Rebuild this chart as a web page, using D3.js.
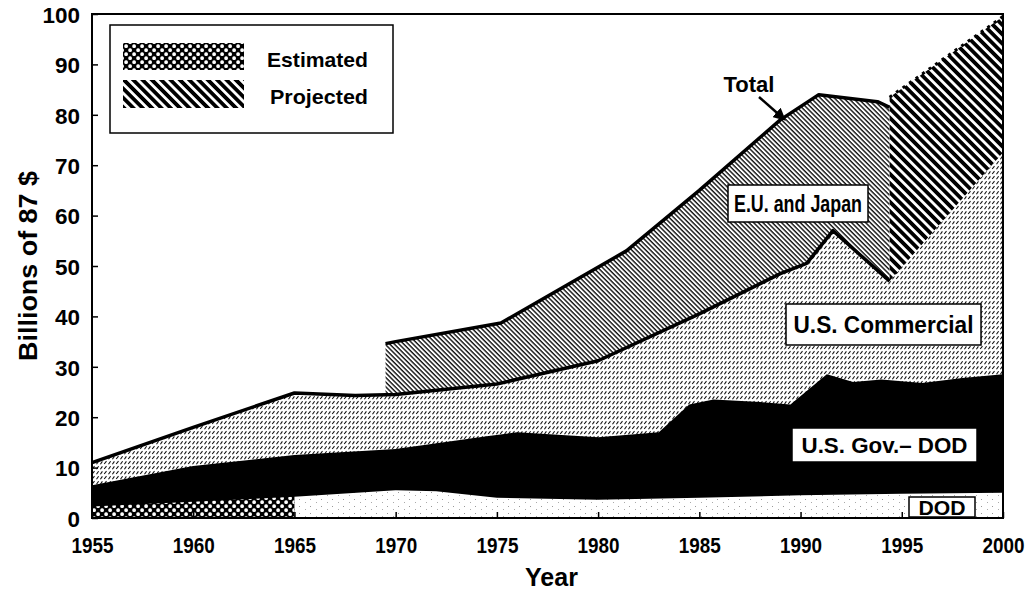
<!DOCTYPE html>
<html>
<head>
<meta charset="utf-8">
<script src="https://cdn.jsdelivr.net/npm/d3@7"></script>
<style>
  body { margin: 0; background: #fff; }
  text { font-family: Arial, "Liberation Sans", sans-serif; font-weight: bold; fill: #000; }
</style>
</head>
<body>
<div id="chart"></div>
<script>
// values, billions of 1987 $ (top edge of each layer)
const dodEstYears = [1955, 1965]
const dodEstTop = [2.3, 4.2]
const dodYears = [1965, 1970, 1972, 1975, 1980, 1985, 1990, 1995, 2000]
const dodTop = [4.2, 5.5, 5.3, 4.0, 3.6, 4.0, 4.5, 4.8, 5.0]
const govYears = [1955, 1960, 1965, 1970, 1974.5, 1976, 1980, 1983, 1984.5, 1985.7, 1988, 1989.5, 1991.3, 1992.6, 1994, 1996, 1998, 2000]
const govTop = [6.5, 10.3, 12.5, 13.7, 16.2, 17.0, 16.0, 17.0, 22.5, 23.5, 23.0, 22.5, 28.5, 27.0, 27.5, 26.8, 27.8, 28.5]
const commYears = [1955, 1960, 1965, 1968, 1970, 1975, 1980, 1985, 1989, 1990.3, 1991.6, 1994.4, 2000]
const commTop = [11.0, 18.0, 24.8, 24.3, 24.5, 26.6, 31.2, 40.5, 48.5, 50.5, 57.0, 47.0, 72.5]
const euYears = [1969.5, 1970, 1975.2, 1981.4, 1985, 1989, 1990.9, 1993.8, 1994.4]
const euTop = [34.6, 35.0, 38.7, 53.0, 65.0, 79.0, 84.0, 82.6, 81.5]
const projYears = [1994.4, 2000]
const projTop = [83.5, 99.5]
const xTicks = [1955, 1960, 1965, 1970, 1975, 1980, 1985, 1990, 1995, 2000]
const yTicks = [0, 10, 20, 30, 40, 50, 60, 70, 80, 90, 100]

const width = 1031
const height = 591
const margin = { left: 92, right: 1003, top: 14, bottom: 518 }

const x = d3.scaleLinear().domain([1955, 2000]).range([margin.left, margin.right])
const y = d3.scaleLinear().domain([0, 100]).range([margin.bottom, margin.top])

const pts = (xs, ys) => xs.map((v, i) => ({ x: v, y: ys[i] }))

const svg = d3.select('#chart').append('svg')
  .attr('width', width)
  .attr('height', height)

const defs = svg.append('defs')

// estimated: rounded checker
const checker = defs.append('pattern').attr('id', 'checker')
  .attr('patternUnits', 'userSpaceOnUse').attr('width', 8).attr('height', 8)
checker.append('rect').attr('width', 8).attr('height', 8).attr('fill', '#000')
checker.append('rect').attr('x', 0.3).attr('y', 0.3).attr('width', 3.6).attr('height', 3.6).attr('rx', 1.5).attr('fill', '#fff')
checker.append('rect').attr('x', 4.3).attr('y', 4.3).attr('width', 3.6).attr('height', 3.6).attr('rx', 1.5).attr('fill', '#fff')

// projected: heavy diagonal stripes
const proj = defs.append('pattern').attr('id', 'proj')
  .attr('patternUnits', 'userSpaceOnUse').attr('width', 10).attr('height', 6.6)
  .attr('patternTransform', 'rotate(45)')
proj.append('rect').attr('width', 10).attr('height', 6.6).attr('fill', '#fff')
proj.append('rect').attr('width', 10).attr('height', 3.8).attr('fill', '#000')

// E.U. and Japan: fine diagonal hatch
const eu = defs.append('pattern').attr('id', 'eu')
  .attr('patternUnits', 'userSpaceOnUse').attr('width', 10).attr('height', 3.3)
  .attr('patternTransform', 'rotate(45)')
eu.append('rect').attr('width', 10).attr('height', 3.3).attr('fill', '#fff')
eu.append('rect').attr('width', 10).attr('height', 1.4).attr('fill', '#111')

// U.S. commercial: rows of small slanted dashes
const comm = defs.append('pattern').attr('id', 'comm')
  .attr('patternUnits', 'userSpaceOnUse').attr('width', 12).attr('height', 5)
comm.append('rect').attr('width', 12).attr('height', 5).attr('fill', '#fff')
comm.append('path')
  .attr('d', 'M0.5,4.2 L2.6,1.2 M4.4,4.2 L6.4,1.4 M8.2,4 L10.5,1.2')
  .attr('stroke', '#111').attr('stroke-width', 1.1).attr('fill', 'none')

// DOD: white with sparse speckle
const dod = defs.append('pattern').attr('id', 'dod')
  .attr('patternUnits', 'userSpaceOnUse').attr('width', 11).attr('height', 7)
dod.append('rect').attr('width', 11).attr('height', 7).attr('fill', '#fff')
dod.append('rect').attr('x', 2).attr('y', 2).attr('width', 1).attr('height', 1).attr('fill', '#999')
dod.append('rect').attr('x', 8).attr('y', 5).attr('width', 1).attr('height', 1).attr('fill', '#aaa')

defs.append('marker').attr('id', 'arrow')
  .attr('viewBox', '0 0 10 10').attr('refX', 8).attr('refY', 5)
  .attr('markerWidth', 5).attr('markerHeight', 5).attr('orient', 'auto')
  .append('path').attr('d', 'M0,0 L10,5 L0,10 Z').attr('fill', '#000')

const area = d3.area()
  .x(d => x(d.x))
  .y0(y(0))
  .y1(d => y(d.y))

const line = d3.line()
  .x(d => x(d.x))
  .y(d => y(d.y))

const plot = svg.append('g')

// layers painted back to front, each from zero up to its top edge
plot.append('path').datum(pts(euYears, euTop)).attr('d', area).attr('fill', 'url(#eu)')
plot.append('path').datum(pts(projYears, projTop)).attr('d', area).attr('fill', 'url(#proj)')
plot.append('path').datum(pts(commYears, commTop)).attr('d', area).attr('fill', 'url(#comm)')
plot.append('path').datum(pts(govYears, govTop)).attr('d', area).attr('fill', '#000')
plot.append('path').datum(pts(dodEstYears, dodEstTop)).attr('d', area).attr('fill', 'url(#checker)')
plot.append('path').datum(pts(dodYears, dodTop)).attr('d', area).attr('fill', 'url(#dod)')

// heavy outlines: commercial top and total
const commEdge = pts(commYears, commTop).filter(d => d.x <= 1994.4)
plot.append('path').datum(commEdge).attr('d', line)
  .attr('fill', 'none').attr('stroke', '#000').attr('stroke-width', 3.5).attr('stroke-linejoin', 'round')
plot.append('path').datum(pts(euYears, euTop)).attr('d', line)
  .attr('fill', 'none').attr('stroke', '#000').attr('stroke-width', 3.5).attr('stroke-linejoin', 'round')
plot.append('path').datum(pts(projYears, projTop)).attr('d', line)
  .attr('fill', 'none').attr('stroke', '#000').attr('stroke-width', 3).attr('stroke-dasharray', '3,5')

// frame
svg.append('rect')
  .attr('x', margin.left).attr('y', margin.top)
  .attr('width', margin.right - margin.left).attr('height', margin.bottom - margin.top)
  .attr('fill', 'none').attr('stroke', '#000').attr('stroke-width', 2)

// axes
const yAxis = svg.append('g')
  .attr('transform', `translate(${margin.left},0)`)
  .call(d3.axisLeft(y).tickValues(yTicks).tickSize(-6).tickPadding(12))
yAxis.select('.domain').remove()
yAxis.selectAll('line').attr('stroke', '#000').attr('stroke-width', 1.5)
yAxis.selectAll('text')
  .attr('font-size', 22).attr('font-family', null).attr('dy', '0.38em')
  .attr('textLength', d => String(d).length * 12.5).attr('lengthAdjust', 'spacingAndGlyphs')

const xAxis = svg.append('g')
  .attr('transform', `translate(0,${margin.bottom})`)
  .call(d3.axisBottom(x).tickValues(xTicks).tickFormat(d3.format('d')).tickSize(-6).tickPadding(19))
xAxis.select('.domain').remove()
xAxis.selectAll('line').attr('stroke', '#000').attr('stroke-width', 1.5)
xAxis.selectAll('text')
  .attr('font-size', 22).attr('font-family', null)
  .attr('textLength', 42).attr('lengthAdjust', 'spacingAndGlyphs')

svg.append('text')
  .attr('transform', `translate(37,${(margin.top + margin.bottom) / 2}) rotate(-90)`)
  .attr('text-anchor', 'middle')
  .attr('font-size', 25)
  .attr('textLength', 190).attr('lengthAdjust', 'spacingAndGlyphs')
  .text('Billions of 87 $')

svg.append('text')
  .attr('x', (margin.left + margin.right) / 2 + 4).attr('y', 586)
  .attr('text-anchor', 'middle')
  .attr('font-size', 25)
  .text('Year')

// boxed labels
function boxLabel (bx, by, bw, bh, label, size, len) {
  svg.append('rect')
    .attr('x', bx).attr('y', by).attr('width', bw).attr('height', bh)
    .attr('fill', '#fff').attr('stroke', '#000').attr('stroke-width', 1.5)
  svg.append('text')
    .attr('x', bx + bw / 2).attr('y', by + bh / 2 + size * 0.36)
    .attr('text-anchor', 'middle')
    .attr('font-size', size)
    .attr('textLength', len).attr('lengthAdjust', 'spacingAndGlyphs')
    .text(label)
}

boxLabel(728, 185, 140, 37, 'E.U. and Japan', 23, 128)
boxLabel(786, 304, 195, 41, 'U.S. Commercial', 24, 180)
boxLabel(792, 428, 185, 34, 'U.S. Gov.\u2013 DOD', 22, 166)
boxLabel(909, 497, 66, 20, 'DOD', 21, 47)

// total pointer
svg.append('text')
  .attr('x', 749).attr('y', 92)
  .attr('text-anchor', 'middle')
  .attr('font-size', 22)
  .attr('textLength', 51).attr('lengthAdjust', 'spacingAndGlyphs')
  .text('Total')
svg.append('line')
  .attr('x1', 759).attr('y1', 97).attr('x2', 784).attr('y2', 119)
  .attr('stroke', '#000').attr('stroke-width', 2.5)
  .attr('marker-end', 'url(#arrow)')

// legend
const legend = svg.append('g')
legend.append('rect')
  .attr('x', 110).attr('y', 25).attr('width', 283).attr('height', 108)
  .attr('fill', '#fff').attr('stroke', '#000').attr('stroke-width', 1.5)
legend.append('rect')
  .attr('x', 123).attr('y', 43).attr('width', 121).attr('height', 27)
  .attr('fill', 'url(#checker)')
legend.append('rect')
  .attr('x', 123).attr('y', 80).attr('width', 121).attr('height', 28)
  .attr('fill', 'url(#proj)')
legend.append('text')
  .attr('x', 267).attr('y', 67)
  .attr('font-size', 21)
  .attr('textLength', 101).attr('lengthAdjust', 'spacingAndGlyphs')
  .text('Estimated')
legend.append('text')
  .attr('x', 270).attr('y', 104)
  .attr('font-size', 21)
  .attr('textLength', 98).attr('lengthAdjust', 'spacingAndGlyphs')
  .text('Projected')
</script>
</body>
</html>
